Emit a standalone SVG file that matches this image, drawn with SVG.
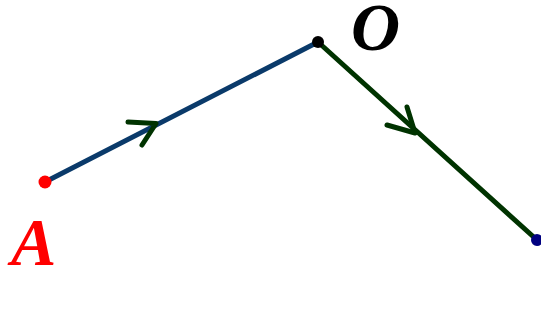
<svg xmlns="http://www.w3.org/2000/svg" width="541" height="320" viewBox="0 0 541 320">
<style>
.seg{fill:none;stroke-width:5;stroke-linecap:round}
.chev{fill:none;stroke:#003300;stroke-width:5;stroke-linecap:round;stroke-linejoin:round}
.lbl{font-family:"Liberation Serif",serif;font-weight:bold;font-style:italic;font-size:68px}
</style>
<rect width="541" height="320" fill="#ffffff"/>
<g id="connectors">
<line class="seg" x1="45" y1="182" x2="318" y2="42" stroke="#0a3a6a"/>
<polyline class="chev" points="128,122 156,123.5 142,145"/>
<line class="seg" x1="318" y1="42" x2="537" y2="240" stroke="#003300"/>
<polyline class="chev" points="407,107 415,133 387,125"/>
</g>
<g id="node-A">
<circle cx="45" cy="182" r="6.5" fill="#ff0000"/>
<text class="lbl" x="11" y="265" fill="#ff0000">A</text>
</g>
<g id="node-O">
<circle cx="318" cy="42" r="6" fill="#000000"/>
<text class="lbl" x="351" y="50" fill="#000000">O</text>
</g>
<g id="node-B">
<circle cx="537" cy="240" r="6" fill="#000080"/>
</g>
</svg>
